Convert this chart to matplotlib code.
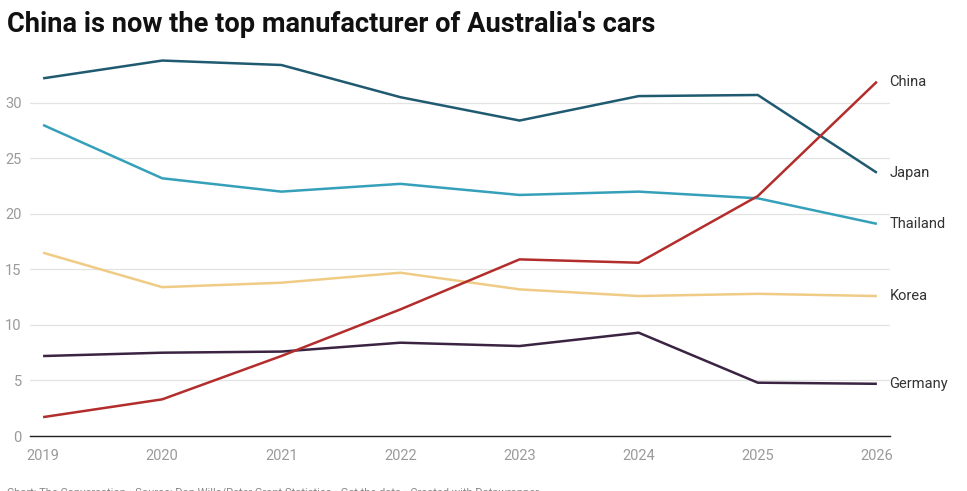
import numpy as np
import matplotlib.pyplot as plt

plt.rcParams['font.family'] = ['Roboto', 'DejaVu Sans']

years = [2019, 2020, 2021, 2022, 2023, 2024, 2025, 2026]
japan = [32.2, 33.8, 33.4, 30.5, 28.4, 30.6, 30.7, 23.7]
thailand = [28.0, 23.2, 22.0, 22.7, 21.7, 22.0, 21.4, 19.1]
korea = [16.5, 13.4, 13.8, 14.7, 13.2, 12.6, 12.8, 12.6]
germany = [7.2, 7.5, 7.6, 8.4, 8.1, 9.3, 4.8, 4.7]
china = [1.7, 3.3, 7.2, 11.4, 15.9, 15.6, 21.6, 31.9]

series = [
    ('Japan', japan, '#1f5a70'),
    ('Thailand', thailand, '#35a0ba'),
    ('Korea', korea, '#f0cb85'),
    ('Germany', germany, '#3a2442'),
    ('China', china, '#b22d2b'),
]

W, H = 967, 491
fig = plt.figure(figsize=(W / 100, H / 100), dpi=100)
ax = fig.add_axes([30 / W, 1 - 436 / H, 860 / W, 381 / H])

for name, vals, col in series:
    ax.plot(years, vals, color=col, lw=1.8, solid_capstyle='butt', zorder=3)
    ax.annotate(name, (years[-1], vals[-1]), xytext=(9, 0), textcoords='offset points',
                va='center', ha='left', fontsize=10.5, color='#333333', annotation_clip=False)

ax.set_xlim(2018.89, 2026.11)
ax.set_ylim(0, 34.3)
ax.set_xticks(years)
ax.set_yticks([0, 5, 10, 15, 20, 25, 30])
ax.tick_params(length=0, labelsize=10.5, labelcolor='#9a9a9a')
ax.tick_params(axis='y', pad=6)
ax.tick_params(axis='x', pad=9)
ax.grid(axis='y', color='#e3e3e3', lw=0.9)
ax.set_axisbelow(True)
for s in ['top', 'right', 'left']:
    ax.spines[s].set_visible(False)
ax.spines['bottom'].set_color('#222222')
ax.spines['bottom'].set_linewidth(1.0)

fig.text(7 / W, 1 - 25 / H, "China is now the top manufacturer of Australia's cars",
         fontsize=19.6, fontweight='bold', va='center', ha='left', color='#111111')
fig.text(7 / W, 1 - 493 / H,
         "Chart: The Conversation • Source: Dan Wills/Peter Grant Statistics • Get the data • Created with Datawrapper",
         fontsize=8, color='#888888', va='center', ha='left')

fig.savefig('out.png', dpi=100, facecolor='white')
